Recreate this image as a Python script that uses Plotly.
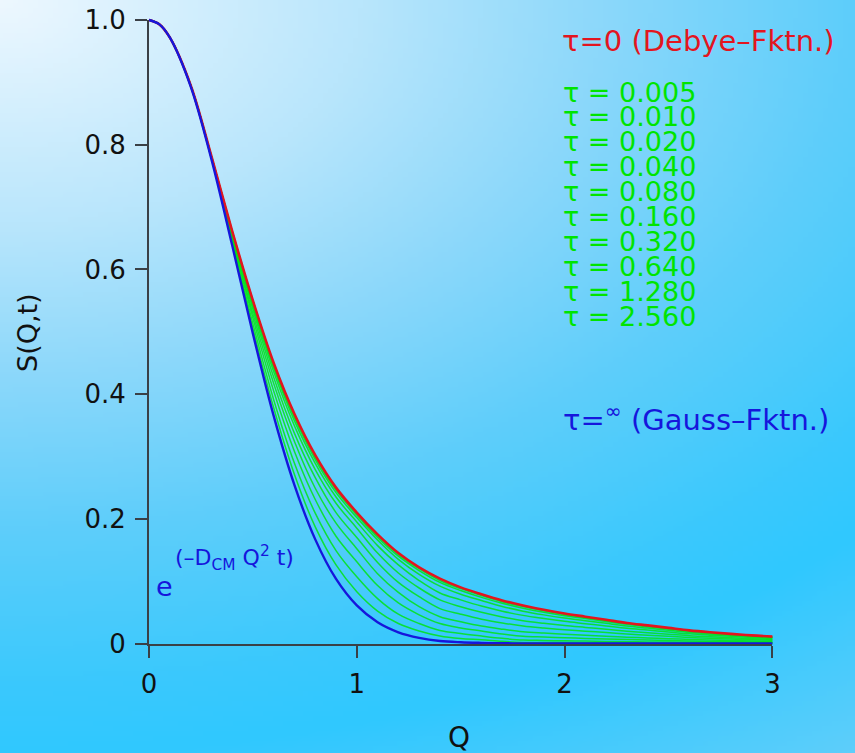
import base64
import struct
import zlib

import numpy as np
import plotly.graph_objects as go

# ---------------- data ----------------
q_grid = [0.0, 0.05, 0.1, 0.2, 0.3, 0.4, 0.5, 0.6, 0.7, 0.8, 0.9, 1.0,
          1.1, 1.2, 1.3, 1.4, 1.5, 1.6, 1.7, 1.8, 1.9, 2.0,
          2.1, 2.2, 2.3, 2.4, 2.5, 2.6, 2.7, 2.8, 2.9, 3.0]

s_debye = [1.000, 0.993, 0.972, 0.896, 0.782, 0.662, 0.550, 0.450, 0.368, 0.302, 0.250, 0.210,
           0.175, 0.145, 0.122, 0.104, 0.090, 0.079, 0.069, 0.061, 0.054, 0.048,
           0.043, 0.038, 0.033, 0.029, 0.025, 0.021, 0.018, 0.0155, 0.013, 0.011]

s_gauss = [1.000, 0.993, 0.972, 0.894, 0.777, 0.639, 0.497, 0.365, 0.254, 0.167, 0.1035, 0.061,
           0.034, 0.018, 0.009, 0.004, 0.002, 0.001, 0.0004, 0.0002, 0.0001, 0.0,
           0.0, 0.0, 0.0, 0.0, 0.0, 0.0, 0.0, 0.0, 0.0, 0.0]

tau_labels = ["0.005", "0.010", "0.020", "0.040", "0.080",
              "0.160", "0.320", "0.640", "1.280", "2.560"]

s_tau_0005 = [1.000, 0.993, 0.972, 0.896, 0.782, 0.662, 0.550, 0.449, 0.367, 0.301, 0.249, 0.209,
              0.173, 0.143, 0.120, 0.101, 0.088, 0.077, 0.067, 0.0592, 0.0524, 0.0466,
              0.0417, 0.0369, 0.0320, 0.0281, 0.0243, 0.0204, 0.0175, 0.0150, 0.0126, 0.0107]
s_tau_0010 = [1.000, 0.993, 0.972, 0.896, 0.782, 0.661, 0.549, 0.448, 0.365, 0.299, 0.246, 0.206,
              0.170, 0.140, 0.117, 0.098, 0.085, 0.074, 0.0645, 0.0567, 0.0502, 0.0446,
              0.0400, 0.0353, 0.0307, 0.0270, 0.0233, 0.0195, 0.0167, 0.0144, 0.0121, 0.0102]
s_tau_0020 = [1.000, 0.993, 0.972, 0.896, 0.782, 0.661, 0.547, 0.445, 0.362, 0.295, 0.242, 0.202,
              0.166, 0.135, 0.111, 0.092, 0.079, 0.069, 0.0594, 0.0519, 0.0459, 0.0408,
              0.0366, 0.0323, 0.0281, 0.0247, 0.0213, 0.0179, 0.0153, 0.0132, 0.0111, 0.0094]
s_tau_0040 = [1.000, 0.993, 0.972, 0.896, 0.782, 0.660, 0.545, 0.442, 0.357, 0.289, 0.235, 0.195,
              0.157, 0.126, 0.101, 0.081, 0.070, 0.060, 0.0519, 0.0451, 0.0400, 0.0355,
              0.0318, 0.0281, 0.0244, 0.0215, 0.0185, 0.0155, 0.0133, 0.0115, 0.0096, 0.0081]
s_tau_0080 = [1.000, 0.993, 0.972, 0.896, 0.781, 0.658, 0.541, 0.436, 0.349, 0.279, 0.225, 0.185,
              0.145, 0.113, 0.089, 0.070, 0.059, 0.050, 0.0426, 0.0366, 0.0324, 0.0288,
              0.0258, 0.0228, 0.0198, 0.0174, 0.0150, 0.0126, 0.0108, 0.0093, 0.0078, 0.0066]
s_tau_0160 = [1.000, 0.993, 0.972, 0.895, 0.781, 0.656, 0.536, 0.427, 0.337, 0.266, 0.210, 0.170,
              0.130, 0.098, 0.075, 0.056, 0.047, 0.039, 0.0330, 0.0281, 0.0248, 0.0221,
              0.0198, 0.0175, 0.0152, 0.0133, 0.0115, 0.0097, 0.0083, 0.0071, 0.0060, 0.0051]
s_tau_0320 = [1.000, 0.993, 0.972, 0.895, 0.780, 0.653, 0.529, 0.417, 0.324, 0.249, 0.193, 0.152,
              0.112, 0.082, 0.059, 0.043, 0.035, 0.028, 0.0230, 0.0189, 0.0167, 0.0149,
              0.0133, 0.0118, 0.0102, 0.0090, 0.0078, 0.0065, 0.0056, 0.0048, 0.0040, 0.0034]
s_tau_0640 = [1.000, 0.993, 0.972, 0.895, 0.779, 0.650, 0.522, 0.405, 0.308, 0.231, 0.172, 0.131,
              0.093, 0.065, 0.046, 0.032, 0.025, 0.020, 0.0151, 0.0116, 0.0103, 0.0091,
              0.0082, 0.0072, 0.0063, 0.0055, 0.0048, 0.0040, 0.0034, 0.0029, 0.0025, 0.0021]
s_tau_1280 = [1.000, 0.993, 0.972, 0.895, 0.779, 0.646, 0.513, 0.391, 0.289, 0.209, 0.149, 0.107,
              0.072, 0.047, 0.032, 0.021, 0.016, 0.012, 0.0083, 0.0055, 0.0049, 0.0043,
              0.0039, 0.0034, 0.0030, 0.0026, 0.0023, 0.0019, 0.0016, 0.0014, 0.0012, 0.0010]
s_tau_2560 = [1.000, 0.993, 0.972, 0.894, 0.778, 0.643, 0.505, 0.378, 0.271, 0.187, 0.126, 0.083,
              0.052, 0.032, 0.020, 0.012, 0.008, 0.006, 0.0035, 0.0018, 0.0016, 0.0014,
              0.0013, 0.0011, 0.0010, 0.0009, 0.0008, 0.0006, 0.0005, 0.0005, 0.0004, 0.0003]

green_series = [s_tau_0005, s_tau_0010, s_tau_0020, s_tau_0040, s_tau_0080,
                s_tau_0160, s_tau_0320, s_tau_0640, s_tau_1280, s_tau_2560]

x_ticks = [0, 1, 2, 3]
x_ticktext = ["0", "1", "2", "3"]
y_ticks = [0, 0.2, 0.4, 0.6, 0.8, 1.0]
y_ticktext = ["0", "0.2", "0.4", "0.6", "0.8", "1.0"]

# ---------------- styling ----------------
W, H = 855, 753
FONT = "DejaVu Sans"
RED = "#e3151f"
BLUE = "#1616dc"
GREEN_LINE = "rgba(0,228,20,0.85)"
GREEN_TEXT = "#00e400"
AXIS = "#3a4046"


def background_png():
    gw, gh = 171, 151
    xs = (np.arange(gw) + 0.5) / gw
    ys = (np.arange(gh) + 0.5) / gh
    X, Y = np.meshgrid(xs, ys)
    d = np.sqrt(0.5 * X ** 2 + Y ** 2)
    sd = [0.0, 0.3, 0.5, 0.7, 0.9, 1.0, 1.25]
    sc = [(238, 248, 255), (185, 230, 252), (140, 216, 250), (95, 206, 250),
          (60, 201, 253), (48, 200, 255), (100, 207, 250)]
    img = np.zeros((gh, gw, 3), dtype=np.uint8)
    for ch in range(3):
        img[:, :, ch] = np.clip(np.interp(d, sd, [c[ch] for c in sc]), 0, 255).astype(np.uint8)
    raw = b"".join(b"\x00" + img[r].tobytes() for r in range(gh))

    def chunk(t, data):
        return struct.pack(">I", len(data)) + t + data + struct.pack(">I", zlib.crc32(t + data) & 0xFFFFFFFF)

    png = (b"\x89PNG\r\n\x1a\n"
           + chunk(b"IHDR", struct.pack(">IIBBBBB", gw, gh, 8, 2, 0, 0, 0))
           + chunk(b"IDAT", zlib.compress(raw, 9))
           + chunk(b"IEND", b""))
    return "data:image/png;base64," + base64.b64encode(png).decode()


# plot-area geometry (fractions of the figure, margins are zero)
XD0, XD1 = 149 / W, 772.4 / W
YD0, YD1 = (H - 643.5) / H, (H - 20) / H
PADX, PADY = 0.012, 0.015
xr_pad = PADX * 3 / (XD1 - XD0)
yr_pad = PADY * 1 / (YD1 - YD0)

fig = go.Figure()

line_shape = dict(shape="spline", smoothing=1.0)
for vals in green_series:
    fig.add_trace(go.Scatter(x=q_grid, y=vals, mode="lines",
                             line=dict(color=GREEN_LINE, width=1.5, **line_shape),
                             hoverinfo="skip", showlegend=False))
fig.add_trace(go.Scatter(x=q_grid, y=s_debye, mode="lines",
                         line=dict(color=RED, width=2.6, **line_shape),
                         showlegend=False))
fig.add_trace(go.Scatter(x=q_grid, y=s_gauss, mode="lines",
                         line=dict(color=BLUE, width=2.4, **line_shape),
                         showlegend=False))
# empty trace so that the visible axes subplot exists
fig.add_trace(go.Scatter(x=[], y=[], xaxis="x2", yaxis="y2", showlegend=False, hoverinfo="skip"))

tickfont = dict(family=FONT, size=26, color="#111111")
axis_common = dict(showline=True, linecolor=AXIS, linewidth=2,
                   ticks="outside", ticklen=12, tickwidth=1.5, tickcolor=AXIS,
                   tickfont=tickfont, ticklabelstandoff=4,
                   showgrid=False, zeroline=False, fixedrange=True, automargin=False)
fig.update_layout(
    width=W, height=H,
    margin=dict(l=0, r=0, t=0, b=0, pad=0),
    paper_bgcolor="#7fd4f8",
    plot_bgcolor="rgba(0,0,0,0)",
    showlegend=False,
    xaxis=dict(domain=[XD0 - PADX, XD1 + PADX], range=[-xr_pad, 3 + xr_pad],
               visible=False, anchor="y", fixedrange=True),
    yaxis=dict(domain=[YD0 - PADY, YD1 + PADY], range=[-yr_pad, 1 + yr_pad],
               visible=False, anchor="x", fixedrange=True),
    xaxis2=dict(domain=[XD0, XD1], range=[0, 3], anchor="y2",
                tickvals=x_ticks, ticktext=x_ticktext, **axis_common),
    yaxis2=dict(domain=[YD0, YD1], range=[0, 1], anchor="x2",
                tickvals=y_ticks, ticktext=y_ticktext, **axis_common),
    images=[dict(source=background_png(), xref="paper", yref="paper",
                 x=0, y=1, sizex=1, sizey=1, xanchor="left", yanchor="top",
                 sizing="stretch", layer="below")],
)


def P(px, py):
    return px / W, 1 - py / H


annotations = []


def add_text(text, px, py, size, color, xanchor="left", yanchor="middle", angle=0):
    x, y = P(px, py)
    annotations.append(dict(text=text, x=x, y=y, xref="paper", yref="paper",
                            xanchor=xanchor, yanchor=yanchor, showarrow=False,
                            textangle=angle,
                            font=dict(family=FONT, size=size, color=color)))


add_text("τ=0 (Debye–Fktn.)", 560, 41, 29, RED)
for i, lab in enumerate(tau_labels):
    add_text("τ = " + lab, 561, 92 + 24.9 * i, 27, GREEN_TEXT)
add_text("τ=<sup>∞</sup> (Gauss–Fktn.)", 561, 418, 29, BLUE)
add_text("e", 164, 586, 27, BLUE, xanchor="center")
add_text("(–D<sub>CM</sub> Q<sup>2</sup> t)", 173, 558, 22, BLUE)
add_text("Q", 459, 737, 28, "#111111", xanchor="center")
add_text("S(Q,t)", 27, 333, 27, "#111111", xanchor="center", angle=-90)

fig.update_layout(annotations=annotations)

fig.write_html("out.html")
